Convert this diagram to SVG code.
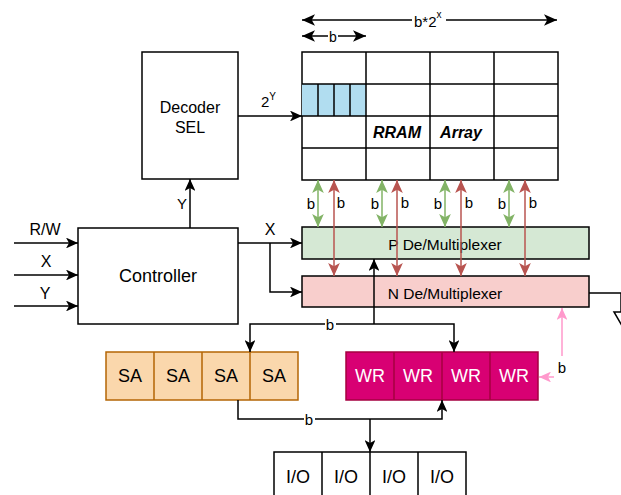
<svg xmlns="http://www.w3.org/2000/svg" width="621" height="495" viewBox="0 0 621 495">
<style>
text{font-family:"Liberation Sans",Arial,Helvetica,sans-serif;fill:#000}
.bx{fill:#fff;stroke:#000;stroke-width:1.5}
.ln{fill:none;stroke:#000;stroke-width:1.5}
.g{fill:none;stroke:#82b366;stroke-width:1.5}
.r{fill:none;stroke:#b85450;stroke-width:1.5}
.p{fill:none;stroke:#ff99cc;stroke-width:1.5}
.lb{fill:#fff;stroke:none}
.c{text-anchor:middle}
</style>
<defs>
<marker id="ak" viewBox="0 0 10 9" refX="10" refY="4.5" markerWidth="12" markerHeight="10.8" markerUnits="userSpaceOnUse" orient="auto-start-reverse"><path d="M0,0 L10,4.5 L0,9 L2.5,4.5 Z" fill="#000"/></marker>
<marker id="akb" viewBox="0 0 10 9" refX="10" refY="4.5" markerWidth="13" markerHeight="11.7" markerUnits="userSpaceOnUse" orient="auto-start-reverse"><path d="M0,0 L10,4.5 L0,9 L2.5,4.5 Z" fill="#000"/></marker>
<marker id="ag" viewBox="0 0 10 9" refX="10" refY="4.5" markerWidth="13" markerHeight="11.7" markerUnits="userSpaceOnUse" orient="auto-start-reverse"><path d="M0,0 L10,4.5 L0,9 L2.5,4.5 Z" fill="#82b366"/></marker>
<marker id="ar" viewBox="0 0 10 9" refX="10" refY="4.5" markerWidth="13" markerHeight="11.7" markerUnits="userSpaceOnUse" orient="auto-start-reverse"><path d="M0,0 L10,4.5 L0,9 L2.5,4.5 Z" fill="#b85450"/></marker>
<marker id="ap" viewBox="0 0 10 9" refX="10" refY="4.5" markerWidth="12" markerHeight="10.8" markerUnits="userSpaceOnUse" orient="auto-start-reverse"><path d="M0,0 L10,4.5 L0,9 L2.5,4.5 Z" fill="#ff99cc"/></marker>
</defs>
<rect width="621" height="495" fill="#fff"/>

<g id="decoder">
<rect class="bx" x="142" y="52" width="96" height="127"/>
<text class="c" x="190" y="113" font-size="16">Decoder</text>
<text class="c" x="190" y="133" font-size="16">SEL</text>
</g>

<g id="controller">
<rect class="bx" x="78" y="228" width="160" height="96"/>
<text class="c" x="158" y="282" font-size="18">Controller</text>
</g>

<g id="rram-array">
<rect class="bx" x="302" y="52" width="256" height="128"/>
<rect x="302" y="84" width="64" height="32" fill="#b1ddf0" stroke="none"/>
<path class="ln" d="M302,84 H558 M302,116 H558 M302,148 H558 M366,52 V180 M430,52 V180 M494,52 V180 M318,84 V116 M334,84 V116 M350,84 V116"/>
<text class="c" x="397" y="138" font-size="16" font-weight="bold" font-style="italic">RRAM</text>
<text class="c" x="461" y="138" font-size="16" font-weight="bold" font-style="italic">Array</text>
</g>

<g id="p-mux">
<rect x="302" y="227" width="287" height="32" fill="#d5e8d4" stroke="#000" stroke-width="1.5"/>
<text class="c" x="445" y="250" font-size="15.5">P De/Multiplexer</text>
</g>

<g id="n-mux">
<rect x="302" y="276" width="287" height="31" fill="#f8cecc" stroke="#000" stroke-width="1.5"/>
<text class="c" x="445" y="299" font-size="15.5">N De/Multiplexer</text>
</g>

<g id="sa">
<rect x="106" y="352" width="192" height="48" fill="#fad7ac" stroke="#b46504" stroke-width="1.5"/>
<path d="M154,352 V400 M202,352 V400 M250,352 V400" stroke="#b46504" stroke-width="1.5" fill="none"/>
<text class="c" x="130" y="382" font-size="18">SA</text>
<text class="c" x="178" y="382" font-size="18">SA</text>
<text class="c" x="226" y="382" font-size="18">SA</text>
<text class="c" x="274" y="382" font-size="18">SA</text>
</g>

<g id="wr">
<rect x="346" y="352" width="192" height="48" fill="#d80073" stroke="#a50040" stroke-width="1.5"/>
<path d="M394,352 V400 M442,352 V400 M490,352 V400" stroke="#a50040" stroke-width="1.5" fill="none"/>
<text class="c" x="370" y="382" font-size="18" style="fill:#fff">WR</text>
<text class="c" x="418" y="382" font-size="18" style="fill:#fff">WR</text>
<text class="c" x="466" y="382" font-size="18" style="fill:#fff">WR</text>
<text class="c" x="514" y="382" font-size="18" style="fill:#fff">WR</text>
</g>

<g id="io">
<rect class="bx" x="274" y="452" width="192" height="60"/>
<path class="ln" d="M322,452 V500 M370,452 V500 M418,452 V500"/>
<text class="c" x="298" y="483" font-size="18">I/O</text>
<text class="c" x="346" y="483" font-size="18">I/O</text>
<text class="c" x="394" y="483" font-size="18">I/O</text>
<text class="c" x="442" y="483" font-size="18">I/O</text>
</g>

<g id="connectors">
<path class="ln" d="M14,243 H78" marker-end="url(#ak)"/>
<path class="ln" d="M14,275 H78" marker-end="url(#ak)"/>
<path class="ln" d="M14,306 H78" marker-end="url(#ak)"/>
<text class="c" x="45" y="235" font-size="16">R/W</text>
<text class="c" x="46" y="267" font-size="16">X</text>
<text class="c" x="45" y="299" font-size="16">Y</text>
<path class="ln" d="M190,228 V179" marker-end="url(#ak)"/>
<text class="c" x="182" y="209" font-size="15">Y</text>
<path class="ln" d="M238,116 H302" marker-end="url(#ak)"/>
<text x="261" y="107" font-size="15">2<tspan font-size="10" dy="-7">Y</tspan></text>
<path class="ln" d="M238,243 H302" marker-end="url(#ak)"/>
<path class="ln" d="M270,243 V292 H302" marker-end="url(#ak)"/>
<text class="c" x="270" y="235" font-size="16">X</text>
<path class="ln" d="M302,20 H557" marker-start="url(#akb)" marker-end="url(#akb)"/>
<rect class="lb" x="412" y="9" width="34" height="22"/>
<text x="414" y="27" font-size="15">b*2<tspan font-size="10" dy="-9">x</tspan></text>
<path class="ln" d="M302,36 H366" marker-start="url(#akb)" marker-end="url(#akb)"/>
<rect class="lb" x="328" y="28" width="10" height="16"/>
<text class="c" x="333" y="42" font-size="14">b</text>
<path class="g" d="M318,180 V227" marker-start="url(#ag)" marker-end="url(#ag)"/>
<path class="g" d="M382,180 V227" marker-start="url(#ag)" marker-end="url(#ag)"/>
<path class="g" d="M445,180 V227" marker-start="url(#ag)" marker-end="url(#ag)"/>
<path class="g" d="M509,180 V227" marker-start="url(#ag)" marker-end="url(#ag)"/>
<text class="c" x="311" y="209" font-size="15">b</text>
<text class="c" x="375" y="209" font-size="15">b</text>
<text class="c" x="438" y="209" font-size="15">b</text>
<text class="c" x="502" y="209" font-size="15">b</text>
<path class="r" d="M334,180 V276" marker-start="url(#ar)" marker-end="url(#ar)"/>
<path class="r" d="M397,180 V276" marker-start="url(#ar)" marker-end="url(#ar)"/>
<path class="r" d="M461,180 V276" marker-start="url(#ar)" marker-end="url(#ar)"/>
<path class="r" d="M525,180 V276" marker-start="url(#ar)" marker-end="url(#ar)"/>
<text class="c" x="341" y="208" font-size="15">b</text>
<text class="c" x="405" y="208" font-size="15">b</text>
<text class="c" x="469" y="208" font-size="15">b</text>
<text class="c" x="533" y="208" font-size="15">b</text>
<path class="ln" d="M374,324 V259" marker-end="url(#ak)"/>
<path class="ln" d="M374,324 H250 V352" marker-end="url(#ak)"/>
<path class="ln" d="M374,324 H454 V352" marker-end="url(#ak)"/>
<rect class="lb" x="325" y="316" width="11" height="16"/>
<text class="c" x="330" y="330" font-size="15">b</text>
<path class="ln" d="M238,400 V419 H442 V400" marker-end="url(#ak)"/>
<path class="ln" d="M370,419 V452" marker-end="url(#ak)"/>
<rect class="lb" x="304" y="411" width="11" height="16"/>
<text class="c" x="309" y="425" font-size="15">b</text>
<path class="p" d="M539,377 H562 V308" marker-start="url(#ap)" marker-end="url(#ap)"/>
<rect class="lb" x="554" y="356" width="17" height="26"/>
<text class="c" x="562" y="373" font-size="15">b</text>
<path class="ln" d="M589,293 H621 V312"/>
<polygon points="614,312 628,312 621,324" fill="#fff" stroke="#000" stroke-width="1.5"/>
</g>
</svg>
